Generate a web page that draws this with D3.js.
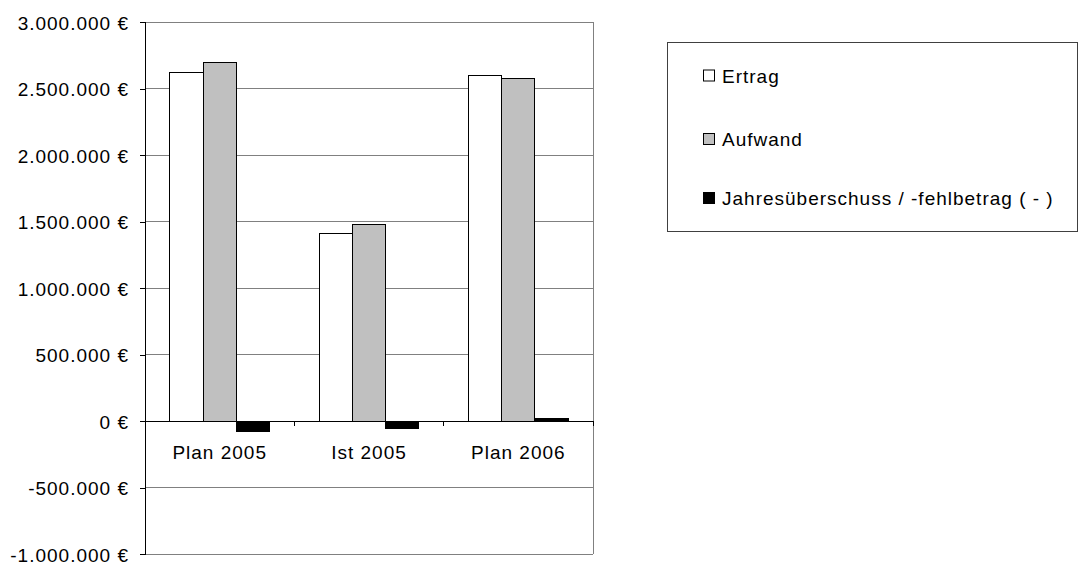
<!DOCTYPE html>
<html><head><meta charset="utf-8">
<script src="https://cdn.jsdelivr.net/npm/d3@7"></script>
<style>body{margin:0;background:#fff}svg{display:block;font-family:"Liberation Sans",Arial,sans-serif}</style>
</head><body><svg id="c" width="1080" height="563"></svg>
<script>
const categories = ["Plan 2005", "Ist 2005", "Plan 2006"];
const seriesNames = ["Ertrag", "Aufwand", "Jahresüberschuss / -fehlbetrag ( - )"];
const ertrag = [2617000, 1410000, 2599000];
const aufwand = [2692000, 1475000, 2577000];
const jahres = [-77000, -60000, 20000];
const yTicks = [-1000000, -500000, 0, 500000, 1000000, 1500000, 2000000, 2500000, 3000000];
const colors = ["#ffffff", "#c0c0c0", "#000000"];

const FS = 19, LS = "1px";
const svg = d3.select("#c");
const L = 145, R = 593, T = 22, B = 554;
const y = d3.scaleLinear().domain([-1000000, 3000000]).range([B, T]);
const x0 = d3.scaleBand().domain(categories).range([L, R]).paddingInner(0).paddingOuter(0);
const gw = x0.bandwidth();
const bw = gw / 4.5;
const x1 = d3.scaleBand().domain(seriesNames).range([0.75 * bw, 3.75 * bw]).padding(0);

const fmt = v => {
  const s = Math.abs(v) === 0 ? "0" : d3.format(",")(Math.abs(v)).replace(/,/g, ".");
  return (v < 0 ? "-" : "") + s + " €";
};

// gridlines
svg.append("g").selectAll("line").data(yTicks).join("line")
  .attr("x1", L).attr("x2", R).attr("y1", d => y(d)).attr("y2", d => y(d))
  .attr("stroke", "#808080").attr("stroke-width", 1).attr("shape-rendering", "crispEdges");
// right border
svg.append("line").attr("x1", R).attr("x2", R).attr("y1", T).attr("y2", B)
  .attr("stroke", "#808080").attr("shape-rendering", "crispEdges");

// y axis
const yAxis = d3.axisLeft(y).tickValues(yTicks).tickFormat(fmt).tickSize(5).tickPadding(11);
const gy = svg.append("g").attr("transform", `translate(${L},0)`).call(yAxis);
gy.select(".domain").attr("stroke", "#000").attr("shape-rendering", "crispEdges");
gy.selectAll(".tick line").attr("stroke", "#000").attr("shape-rendering", "crispEdges");
gy.selectAll("text").attr("font-size", FS).attr("letter-spacing", LS).attr("fill", "#000")
  .attr("dy", 7).attr("font-family", "Liberation Sans, Arial, sans-serif");

// bars
const data = categories.map((c, i) => ({c, vals: [ertrag[i], aufwand[i], jahres[i]]}));
const g = svg.append("g");
data.forEach(d => {
  d.vals.forEach((v, k) => {
    g.append("rect")
      .attr("x", x0(d.c) + x1(seriesNames[k]))
      .attr("width", x1.bandwidth())
      .attr("y", y(Math.max(0, v)))
      .attr("height", Math.abs(y(v) - y(0)))
      .attr("fill", colors[k]).attr("stroke", "#000").attr("stroke-width", 1)
      .attr("shape-rendering", "crispEdges");
  });
});

// x axis at zero
const xAxis = d3.axisBottom(x0).tickSize(0).tickPadding(0);
const gx = svg.append("g").attr("transform", `translate(0,${y(0)})`).call(xAxis);
gx.select(".domain").attr("stroke", "#000").attr("shape-rendering", "crispEdges");
gx.selectAll("text").attr("font-size", FS).attr("letter-spacing", LS).attr("fill", "#000")
  .attr("y", 38).attr("dy", 0).attr("font-family", "Liberation Sans, Arial, sans-serif");
// category boundary ticks
svg.append("g").selectAll("line").data(d3.range(categories.length + 1)).join("line")
  .attr("x1", i => L + i * gw).attr("x2", i => L + i * gw)
  .attr("y1", y(0)).attr("y2", y(0) + 5)
  .attr("stroke", "#000").attr("shape-rendering", "crispEdges");

// legend
const lg = svg.append("g");
lg.append("rect").attr("x", 667.5).attr("y", 42.5).attr("width", 410).attr("height", 189)
  .attr("fill", "#fff").attr("stroke", "#404040").attr("stroke-width", 1);
const ly = [75, 138.5, 197.5];
seriesNames.forEach((s, k) => {
  lg.append("rect").attr("x", 703.5).attr("y", ly[k] - 5).attr("width", 11).attr("height", 11)
    .attr("fill", colors[k]).attr("stroke", "#000").attr("stroke-width", 1);
  lg.append("text").attr("x", 722).attr("y", ly[k] + 7.5)
    .attr("font-size", FS).attr("letter-spacing", LS).attr("fill", "#000").text(s);
});
</script></body></html>
